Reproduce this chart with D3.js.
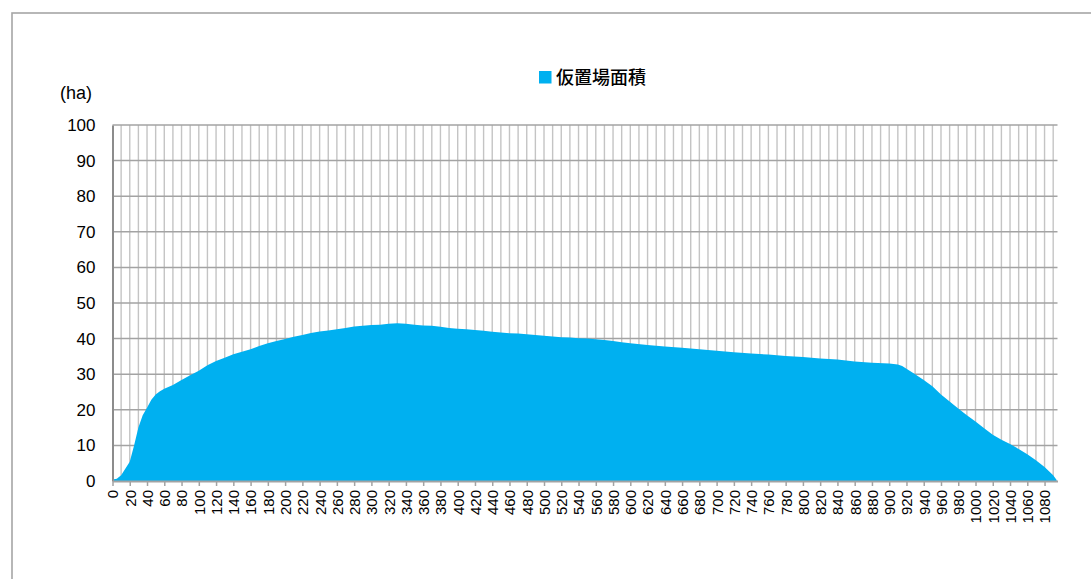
<!DOCTYPE html>
<html>
<head>
<meta charset="utf-8">
<script src="https://cdn.jsdelivr.net/npm/d3@7"></script>
<style>
  html, body { margin: 0; padding: 0; background: #fff; }
  svg { display: block; }
</style>
</head>
<body>
<svg id="chart" width="1091" height="579"></svg>
<script>
// Elapsed days and temporary storage area (ha)
const days = [0, 5, 10, 15, 20, 25, 30, 35, 40, 45, 50, 55, 60, 70, 80, 90, 100, 110, 120, 130, 140, 150, 160, 170, 180, 190, 200, 210, 220, 230, 240, 250, 260, 270, 280, 290, 300, 310, 320, 330, 340, 350, 360, 370, 380, 390, 400, 410, 420, 430, 440, 450, 460, 470, 480, 490, 500, 510, 520, 530, 540, 550, 560, 570, 580, 590, 600, 620, 640, 660, 680, 700, 720, 740, 760, 780, 800, 820, 840, 860, 880, 900, 910, 915, 920, 930, 940, 950, 960, 970, 980, 990, 1000, 1010, 1020, 1030, 1040, 1050, 1060, 1070, 1080, 1090, 1094];
const area = [0.4, 0.6, 1.6, 3.5, 5.4, 10, 15, 18.5, 20.6, 22.8, 24.3, 25.2, 25.9, 27, 28.4, 29.7, 31, 32.5, 33.7, 34.6, 35.6, 36.3, 37, 37.9, 38.7, 39.3, 39.9, 40.5, 41, 41.6, 42, 42.3, 42.6, 43, 43.4, 43.6, 43.8, 43.9, 44.2, 44.3, 44.2, 43.9, 43.7, 43.6, 43.3, 43, 42.8, 42.6, 42.4, 42.2, 41.9, 41.7, 41.5, 41.4, 41.2, 41, 40.8, 40.6, 40.4, 40.3, 40.1, 40, 39.8, 39.6, 39.3, 39, 38.7, 38.2, 37.8, 37.4, 37, 36.6, 36.2, 35.8, 35.5, 35.1, 34.8, 34.4, 34.1, 33.6, 33.2, 33, 32.7, 32.3, 31.5, 30, 28.4, 26.6, 24.3, 22.3, 20.4, 18.5, 16.7, 14.8, 13, 11.6, 10.4, 9, 7.5, 5.8, 3.9, 1.6, 0.3];

const seriesName = "仮置場面積";
const unitLabel = "(ha)";
const yTicks = [0, 10, 20, 30, 40, 50, 60, 70, 80, 90, 100];
const xLabelTicks = d3.range(0, 1081, 20);
const xGridTicks = d3.range(10, 1091, 10);

const svg = d3.select("#chart");
const plotLeft = 112.5, plotRight = 1057.5, plotTop = 125, plotBottom = 481;

const x = d3.scaleLinear().domain([0, 1095]).range([plotLeft, plotRight]);
const y = d3.scaleLinear().domain([0, 100]).range([plotBottom, plotTop]);

// outer chart frame
svg.append("rect")
  .attr("x", 12).attr("y", 13)
  .attr("width", 1200).attr("height", 700)
  .attr("fill", "none")
  .attr("stroke", "#a6a6a6")
  .attr("stroke-width", 1.6);

// vertical gridlines
svg.append("g")
  .selectAll("line")
  .data(xGridTicks)
  .join("line")
  .attr("x1", d => x(d)).attr("x2", d => x(d))
  .attr("y1", plotTop).attr("y2", plotBottom)
  .attr("stroke", "#c4c4c4")
  .attr("stroke-width", 1.4);

// horizontal gridlines
svg.append("g")
  .selectAll("line")
  .data(yTicks.filter(d => d > 0))
  .join("line")
  .attr("x1", plotLeft).attr("x2", plotRight)
  .attr("y1", d => y(d)).attr("y2", d => y(d))
  .attr("stroke", "#a3a3a3")
  .attr("stroke-width", 1.5);

// area series
const pts = days.map((d, i) => [d, area[i]]);
svg.append("path")
  .datum(pts)
  .attr("fill", "#00b0f0")
  .attr("d", d3.area()
    .x(d => x(d[0]))
    .y0(y(0))
    .y1(d => y(d[1])));

// y axis
const yAxis = svg.append("g")
  .attr("transform", `translate(${plotLeft},0)`)
  .call(d3.axisLeft(y).tickValues(yTicks).tickSize(0).tickPadding(17));
yAxis.select(".domain").attr("stroke", "#8c8c8c").attr("stroke-width", 2);
yAxis.selectAll("text")
  .attr("font-family", "Liberation Sans, Arial, sans-serif")
  .attr("font-size", 17)
  .attr("fill", "#000");

// x axis
const xAxis = svg.append("g")
  .attr("transform", `translate(0,${plotBottom})`)
  .call(d3.axisBottom(x).tickValues(xLabelTicks).tickSize(5).tickSizeOuter(0).tickFormat(d3.format("d")));
xAxis.select(".domain").attr("stroke", "#a3a3a3").attr("stroke-width", 2);
xAxis.selectAll(".tick line").attr("stroke", "#a3a3a3").attr("stroke-width", 1.5);
xAxis.selectAll("text")
  .attr("font-family", "Liberation Sans, Arial, sans-serif")
  .attr("font-size", 15)
  .attr("fill", "#000")
  .attr("transform", "rotate(-90)")
  .attr("text-anchor", "end")
  .attr("dx", "-9")
  .attr("dy", "0.36em")
  .attr("y", 0);

// unit label
svg.append("text")
  .attr("x", 60).attr("y", 99)
  .attr("font-family", "Liberation Sans, Arial, sans-serif")
  .attr("font-size", 18)
  .attr("fill", "#000")
  .text(unitLabel);

// legend
const legend = svg.append("g").attr("transform", "translate(539,71)");
legend.append("rect")
  .attr("width", 12.5).attr("height", 12.5)
  .attr("fill", "#00b0f0");
legend.append("text")
  .attr("x", 17).attr("y", 6.5)
  .attr("dy", "0.36em")
  .attr("font-family", "Noto Sans CJK JP, sans-serif")
  .attr("font-size", 18)
  .attr("font-weight", 500)
  .attr("fill", "#000")
  .text(seriesName);
</script>
</body>
</html>
